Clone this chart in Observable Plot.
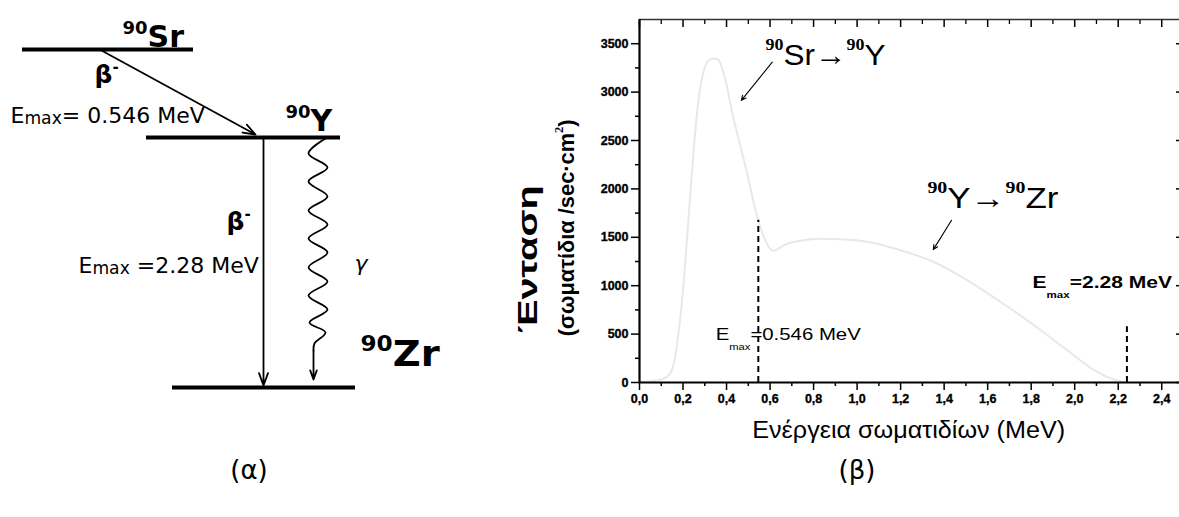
<!DOCTYPE html>
<html>
<head>
<meta charset="utf-8">
<script src="https://cdn.jsdelivr.net/npm/d3@7"></script>
<script src="https://cdn.jsdelivr.net/npm/@observablehq/plot@0.6"></script>
<style>
  html, body { margin: 0; padding: 0; background: #fff; }
  #fig { position: relative; width: 1179px; height: 517px; overflow: hidden; background: #fff; }
  #left, #right { position: absolute; top: 0; }
  #left { left: 0; width: 460px; }
  #right { left: 460px; width: 730px; }
  .cap { position: absolute; top: 455px; font-family: "DejaVu Sans", sans-serif; font-size: 26px; line-height: 30px; transform: translateX(-50%); color: #000; }
</style>
</head>
<body>
<div id="fig">
  <div id="left"></div>
  <div id="right"></div>
  <div class="cap" style="left:249px">(α)</div>
  <div class="cap" style="left:857px">(β)</div>
</div>
<script>
// ================= DATA =================
// (β) beta spectrum of 90Sr/90Y
const energyMeV = [0, 0.04, 0.08, 0.12, 0.143, 0.158, 0.181, 0.204, 0.227, 0.25,
  0.273, 0.296, 0.315, 0.334, 0.35, 0.365, 0.395, 0.434, 0.457, 0.495,
  0.533, 0.572, 0.6, 0.618, 0.64, 0.664, 0.74, 0.832, 0.924, 1.047,
  1.2, 1.353, 1.507, 1.66, 1.813, 1.966, 2.089, 2.181, 2.227];
const intensity = [8, 10, 20, 50, 100, 196, 540, 1056, 1745, 2432,
  2949, 3224, 3320, 3345, 3345, 3327, 3121, 2708, 2501, 2157,
  1779, 1503, 1380, 1359, 1385, 1418, 1465, 1485, 1480, 1455,
  1366, 1245, 1056, 832, 592, 333, 127, 31, 5];

// end-point energies (MeV) and the height of their dashed markers
const emaxEnergy = [0.546, 2.24];
const emaxMarkerTop = [1676, 575];

// axis ticks
const xMajorTicks = [0.0, 0.2, 0.4, 0.6, 0.8, 1.0, 1.2, 1.4, 1.6, 1.8, 2.0, 2.2, 2.4];
const xTickLabels = ["0,0", "0,2", "0,4", "0,6", "0,8", "1,0", "1,2", "1,4", "1,6", "1,8", "2,0", "2,2", "2,4"];
const xMinorTicks = [0.1, 0.3, 0.5, 0.7, 0.9, 1.1, 1.3, 1.5, 1.7, 1.9, 2.1, 2.3];
const yMajorTicks = [0, 500, 1000, 1500, 2000, 2500, 3000, 3500];
const yTickLabels = ["0", "500", "1000", "1500", "2000", "2500", "3000", "3500"];
const yMinorTicks = [250, 750, 1250, 1750, 2250, 2750, 3250];

// annotations of the spectrum (in MeV / intensity units)
const reactionLabels = ["^{90}Sr→^{90}Y", "^{90}Y→^{90}Zr"];
const reactionAt = [[0.579, 3276], [1.323, 1800]];
const pointerFrom = [[0.610, 3310], [1.434, 1676]];
const pointerTo = [[0.468, 2915], [1.350, 1373]];
const emaxLabel1 = "E_{max}=0.546 MeV";
const emaxLabel1At = [0.35, 437];
const emaxLabel2 = "E_{max}=2.28 MeV";
const emaxLabel2At = [1.806, 974];
const xTitle = "Ενέργεια σωματιδίων (MeV)";
const yTitle = "Ένταση";
const yUnit = "(σωματίδια /sec·cm^{2})";

// (α) decay scheme, in diagram units of the left panel
const levelNuclide = ["90Sr", "90Y", "90Zr"];
const levelStart = [22, 146, 172];
const levelEnd = [193, 340, 355];
const levelAt = [49, 137, 387];
const parentLabels = ["^{90}Sr", "^{90}Y"];
const parentLabelAt = [[122, 46], [285, 130]];
const daughterLabel = "^{90}Zr";
const daughterLabelAt = [360, 365];
const betaFrom = [[101, 50], [263, 139]];
const betaTo = [[255, 134], [263, 385]];
const betaLabels = ["β^{-}", "β^{-}"];
const betaLabelAt = [[94, 82], [226, 229]];
const energyLabels = ["E_{max}= 0.546 MeV", "E_{max} =2.28 MeV"];
const energyLabelAt = [[10, 122], [78, 272]];
const gammaLabel = "γ";
const gammaLabelAt = [354, 270];
const gammaWave = [[325, 138], [308, 153], [327, 167], [308, 181], [327, 196], [308, 210],
  [327, 224], [308, 238], [327, 252], [308, 267], [327, 281], [308, 295], [327, 309],
  [309, 322], [325, 332], [314, 343], [313, 350]];
const gammaTail = [[313, 350], [313, 379]];

// ================= BUILD =================
const H = 517;
const spectrum = energyMeV.map((e, k) => ({e, i: intensity[k]}));
const emax = emaxEnergy.map((e, k) => ({e, top: emaxMarkerTop[k]}));
const reactions = reactionLabels.map((t, k) => ({t, e: reactionAt[k][0], i: reactionAt[k][1]}));
const pointers = pointerFrom.map((p, k) => ({e1: p[0], i1: p[1], e2: pointerTo[k][0], i2: pointerTo[k][1]}));
const xFmt = d => xTickLabels[xMajorTicks.indexOf(d)];
const yFmt = d => yTickLabels[yMajorTicks.indexOf(d)];

const right = Plot.plot({
  width: 730, height: H,
  marginLeft: 179, marginRight: 7, marginTop: 19, marginBottom: 135,
  x: {domain: [0, 2.5], axis: null},
  y: {domain: [0, 3750], axis: null},
  style: {fontFamily: "'Liberation Sans', Arial, sans-serif", fontSize: "12px", background: "transparent", color: "#000"},
  marks: [
    Plot.line(spectrum, {x: "e", y: "i", stroke: "#e8e8e8", strokeWidth: 2, curve: "monotone-x"}),
    Plot.ruleX(emax, {x: "e", y1: 0, y2: "top", strokeDasharray: "6,4", strokeWidth: 2}),
    Plot.ruleY([3750], {stroke: "#333", strokeWidth: 1.3}),
    Plot.ruleX([2.5], {strokeWidth: 1.5}),
    Plot.axisX(xMinorTicks, {anchor: "top", tickSize: -4, fill: "none", label: null, strokeWidth: 1.3}),
    Plot.axisX(xMajorTicks, {anchor: "top", tickSize: -7, fill: "none", label: null, strokeWidth: 1.5}),
    Plot.axisY(yMinorTicks, {anchor: "right", tickSize: -4, fill: "none", label: null, strokeWidth: 1.3}),
    Plot.axisY(yMajorTicks, {anchor: "right", tickSize: -8, fill: "none", label: null, strokeWidth: 1.5}),
    Plot.axisX(xMinorTicks, {anchor: "bottom", tickSize: 4, fill: "none", label: null, strokeWidth: 1.5}),
    Plot.axisX(xMajorTicks, {anchor: "bottom", tickSize: 8, tickPadding: 4, tickFormat: xFmt, label: null, strokeWidth: 1.5}),
    Plot.axisY(yMinorTicks, {anchor: "left", tickSize: 4, fill: "none", label: null, strokeWidth: 1.5}),
    Plot.axisY(yMajorTicks, {anchor: "left", tickSize: 8, tickPadding: 3, tickFormat: yFmt, label: null, strokeWidth: 1.5}),
    Plot.ruleY([0], {strokeWidth: 2.2}),
    Plot.ruleX([0], {strokeWidth: 2.2}),
    Plot.arrow(pointers, {x1: "e1", y1: "i1", x2: "e2", y2: "i2", strokeWidth: 1.1, headLength: 7, headAngle: 50}),
    Plot.text(reactions, {x: "e", y: "i", text: "t", textAnchor: "start", lineAnchor: "bottom", fontSize: 30}),
    Plot.text([emaxLabel1], {x: () => emaxLabel1At[0], y: () => emaxLabel1At[1], text: d => d, textAnchor: "start", lineAnchor: "bottom", fontSize: 17}),
    Plot.text([emaxLabel2], {x: () => emaxLabel2At[0], y: () => emaxLabel2At[1], text: d => d, textAnchor: "start", lineAnchor: "bottom", fontSize: 16, fontWeight: "bold"}),
    Plot.text([xTitle], {x: () => 1.237, frameAnchor: "bottom", dy: 55, text: d => d, lineAnchor: "bottom", fontSize: 24}),
    Plot.text([yTitle], {x: () => -0.469, y: () => 1273, text: d => d, rotate: -90, lineAnchor: "bottom", fontSize: 27, fontWeight: "bold"}),
    Plot.text([yUnit], {x: () => -0.299, y: () => 1598, text: d => d, rotate: -90, lineAnchor: "bottom", fontSize: 22, fontWeight: "bold"})
  ]
});

const levels = levelNuclide.map((n, k) => ({n, x1: levelStart[k], x2: levelEnd[k], y: levelAt[k]}));
const betas = betaFrom.map((p, k) => ({x1: p[0], y1: p[1], x2: betaTo[k][0], y2: betaTo[k][1]}));
const pts = (labels, at) => labels.map((t, k) => ({t, x: at[k][0], y: at[k][1]}));

const left = Plot.plot({
  width: 460, height: H, margin: 0,
  x: {domain: [0, 460], axis: null},
  y: {domain: [0, H], reverse: true, axis: null},
  style: {fontFamily: "'DejaVu Sans', sans-serif", background: "transparent", color: "#000"},
  marks: [
    Plot.ruleY(levels, {y: "y", x1: "x1", x2: "x2", strokeWidth: 4}),
    Plot.arrow(betas, {x1: "x1", y1: "y1", x2: "x2", y2: "y2", strokeWidth: 1.8, headLength: 11, headAngle: 40}),
    Plot.line(gammaWave, {x: d => d[0], y: d => d[1], curve: "catmull-rom", strokeWidth: 1.8}),
    Plot.arrow([gammaTail], {x1: d => d[0][0], y1: d => d[0][1], x2: d => d[1][0], y2: d => d[1][1], strokeWidth: 1.8, headLength: 11, headAngle: 40}),
    Plot.text(pts(parentLabels, parentLabelAt), {x: "x", y: "y", text: "t", textAnchor: "start", lineAnchor: "bottom", fontSize: 30, fontWeight: "bold"}),
    Plot.text([daughterLabel], {x: () => daughterLabelAt[0], y: () => daughterLabelAt[1], text: d => d, textAnchor: "start", lineAnchor: "bottom", fontSize: 35, fontWeight: "bold"}),
    Plot.text(pts(betaLabels, betaLabelAt), {x: "x", y: "y", text: "t", textAnchor: "start", lineAnchor: "bottom", fontSize: 25, fontWeight: "bold"}),
    Plot.text(pts(energyLabels, energyLabelAt), {x: "x", y: "y", text: "t", textAnchor: "start", lineAnchor: "bottom", fontSize: 22}),
    Plot.text([gammaLabel], {x: () => gammaLabelAt[0], y: () => gammaLabelAt[1], text: d => d, textAnchor: "start", lineAnchor: "bottom", fontSize: 22, fontStyle: "italic"})
  ]
});

for (const s of [left, right]) { s.style.maxWidth = "none"; s.style.overflow = "visible"; }
document.getElementById("left").appendChild(left);
document.getElementById("right").appendChild(right);

// tick labels: heavy bold
const tickLabelSet = new Set([...xTickLabels, ...yTickLabels]);
right.querySelectorAll("text").forEach(el => {
  if (tickLabelSet.has(el.textContent)) {
    el.style.fontSize = "12.5px";
    el.style.fontWeight = "bold";
    el.style.fontFamily = "'Liberation Sans', Arial, sans-serif";
    el.style.stroke = "#000";
    el.style.strokeWidth = "0.35px";
  }
});

// ---------- rich text: ^{sup} and _{sub} ----------
const SVGNS = "http://www.w3.org/2000/svg";
function richify(svg, cfg) {
  svg.querySelectorAll("text").forEach(el => {
    const s = el.textContent;
    if (!/[\^_]\{/.test(s)) return;
    el.setAttribute("data-raw", s);
    const fs = parseFloat(getComputedStyle(el).fontSize);
    el.textContent = "";
    let shift = 0;
    for (const p of s.split(/([\^_]\{[^}]*\})/)) {
      if (!p) continue;
      const m = p.match(/^([\^_])\{([^}]*)\}$/);
      const t = document.createElementNS(SVGNS, "tspan");
      if (m) {
        const c = m[1] === "^" ? cfg.sup : cfg.sub;
        const target = (m[1] === "^" ? -1 : 1) * c.shift * fs;
        t.setAttribute("dy", target - shift);
        shift = target;
        t.setAttribute("font-size", c.scale * fs);
        if (c.family) t.setAttribute("font-family", c.family);
        if (c.weight) t.setAttribute("font-weight", c.weight);
        t.textContent = m[2];
      } else {
        if (shift) t.setAttribute("dy", -shift);
        shift = 0;
        t.textContent = p;
      }
      el.appendChild(t);
    }
  });
}
function stretch(svg, targets) {
  svg.querySelectorAll("text").forEach(el => {
    const raw = el.getAttribute("data-raw") ?? el.textContent;
    const tg = targets.find(d => d.text === raw);
    if (!tg) return;
    const w = el.getBBox().width;
    if (w > 0) el.setAttribute("transform", (el.getAttribute("transform") || "") + ` scale(${tg.width / w},1)`);
  });
}
richify(left, {sup: {scale: 0.6, shift: 0.42}, sub: {scale: 0.78, shift: 0.08}});
richify(right, {sup: {scale: 0.57, shift: 0.5, family: "'Liberation Serif', serif", weight: "bold"}, sub: {scale: 0.55, shift: 0.6}});
stretch(left, [
  {text: daughterLabel, width: 80}
]);
stretch(right, [
  {text: reactionLabels[0], width: 120},
  {text: reactionLabels[1], width: 131},
  {text: emaxLabel1, width: 146},
  {text: emaxLabel2, width: 140},
  {text: xTitle, width: 313},
  {text: yTitle, width: 148},
  {text: yUnit, width: 217}
]);
</script>
</body>
</html>
